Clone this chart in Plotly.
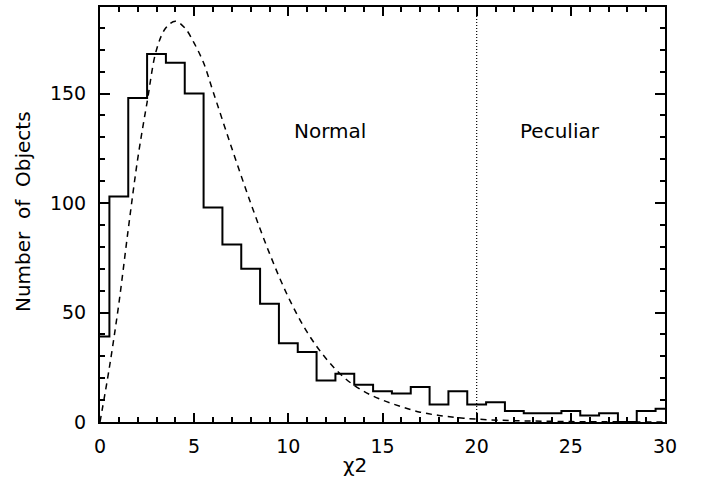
import plotly.graph_objects as go

# Histogram of chi^2 values (bin centres and counts)
chi2_bins = list(range(0, 31))
counts = [39, 103, 148, 168, 164, 150, 98, 81, 70, 54, 36, 32, 19, 22, 17, 14,
          13, 16, 8, 14, 8, 9, 5, 4, 4, 5, 3, 4, 0, 5, 6]

# Expected distribution (dashed curve)
curve_x = [0, 0.5, 1, 1.5, 2, 2.5, 3, 3.5, 4, 4.5, 5, 5.5, 6, 7, 8, 9, 10, 11,
           12, 13, 14, 15, 16, 17, 18, 19, 20, 22, 24, 26, 28, 30]
curve_y = [0, 25, 54, 88, 120, 146, 170, 180, 183, 180, 173, 164, 151, 125, 100,
           77, 57, 41, 29, 20, 14, 10, 7, 4.5, 3, 2, 1.3, 0.6, 0.3, 0.1, 0.05, 0]

cut_x = 20
region_labels = ["Normal", "Peculiar"]
region_label_x = [12.2, 24.45]
region_label_y = 132.7

x_ticks = [0, 5, 10, 15, 20, 25, 30]
y_ticks = [0, 50, 100, 150]

FONT = "DejaVu Sans"
NB = "\u00a0"

fig = go.Figure()
fig.add_trace(go.Scatter(x=chi2_bins, y=counts, mode="lines",
                         line=dict(shape="hvh", color="black", width=2),
                         showlegend=False, hoverinfo="skip"))
fig.add_trace(go.Scatter(x=curve_x, y=curve_y, mode="lines",
                         line=dict(shape="spline", color="black", width=1.5, dash="6px,5px"),
                         showlegend=False, hoverinfo="skip"))
fig.add_trace(go.Scatter(x=[cut_x, cut_x], y=[0, 189.5], mode="lines",
                         line=dict(color="black", width=1.2, dash="1px,2px"),
                         showlegend=False, hoverinfo="skip"))

for t, xx in zip(region_labels, region_label_x):
    fig.add_annotation(x=xx, y=region_label_y, text=t, showarrow=False,
                       font=dict(family=FONT, size=20, color="black"))

fig.add_annotation(xref="paper", yref="paper", x=(355 - 100) / 565, y=-(465 - 422) / 417,
                   xanchor="center", yanchor="middle",
                   text="χ2", showarrow=False, font=dict(family=FONT, size=20, color="black"))
fig.add_annotation(xref="paper", yref="paper", x=-(100 - 23) / 565, y=(422 - 211) / 417,
                   xanchor="center", yanchor="middle",
                   text="Number" + NB + " of" + NB + " Objects", textangle=-90, showarrow=False,
                   font=dict(family=FONT, size=20, color="black"))

axis_common = dict(showline=True, linecolor="black", linewidth=2, mirror="allticks",
                   ticks="inside", tickcolor="black", tickwidth=1.5,
                   showgrid=False, zeroline=False,
                   tickfont=dict(family=FONT, size=19, color="black"))

fig.update_xaxes(range=[0, 30], tickvals=x_ticks, ticklen=9,
                 minor=dict(dtick=1, ticks="inside", ticklen=5, tickcolor="black", tickwidth=1.5),
                 ticklabelstandoff=6, **axis_common)
fig.update_yaxes(range=[0, 189.5], tickvals=y_ticks, ticklen=10,
                 minor=dict(dtick=10, ticks="inside", ticklen=5, tickcolor="black", tickwidth=1.5),
                 ticklabelstandoff=8, **axis_common)

fig.update_layout(width=703, height=492,
                  margin=dict(l=100, r=38, t=5, b=70),
                  plot_bgcolor="white", paper_bgcolor="white")

fig.write_html("out.html", config={"displayModeBar": False},
               post_script="document.body.style.margin='0';")
